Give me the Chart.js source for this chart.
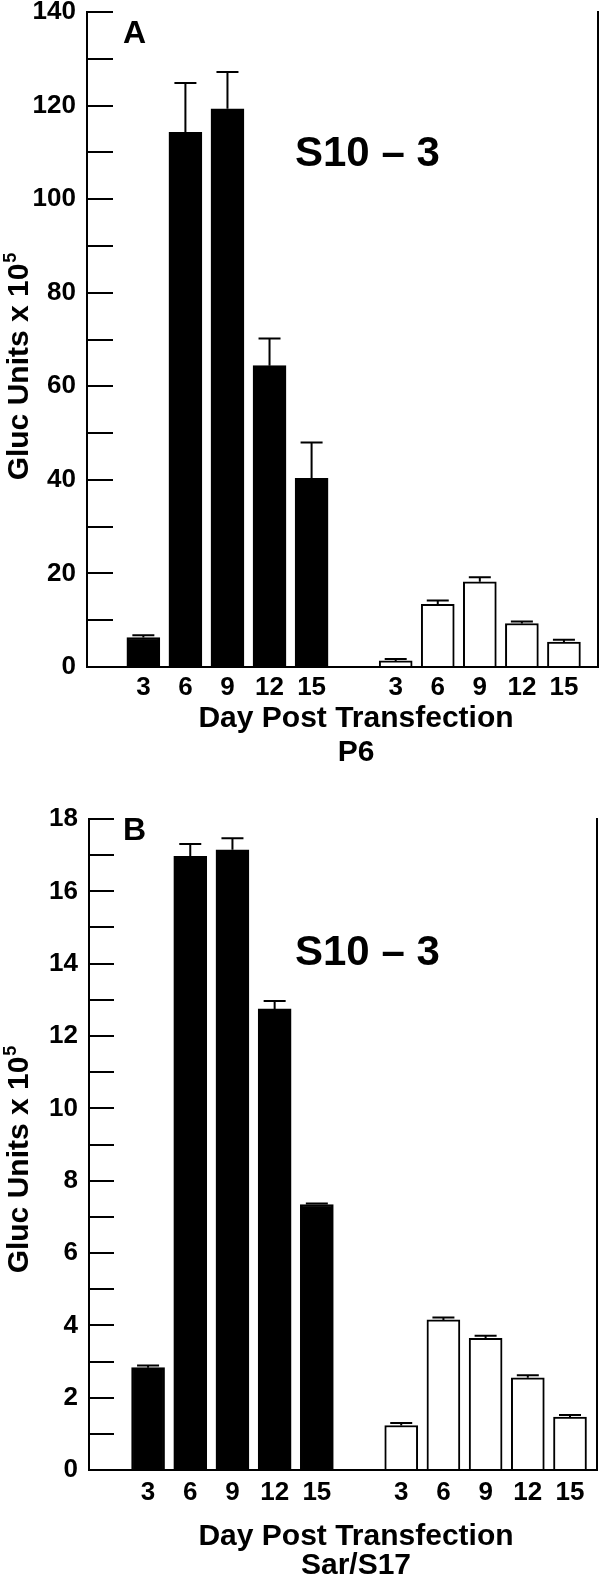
<!DOCTYPE html>
<html>
<head>
<meta charset="utf-8">
<script src="https://cdn.jsdelivr.net/npm/chart.js@4.4.0/dist/chart.umd.min.js"></script>
<style>
  body { margin: 0; background: #fff; }
  canvas { display: block; }
</style>
</head>
<body>
<canvas id="chartA" width="600" height="790"></canvas>
<canvas id="chartB" width="600" height="789"></canvas>
<script>
// Gluc secretion of S10-3 cells by day post transfection
const days = ['3', '6', '9', '12', '15'];
const slotsBlack = [1, 2, 3, 4, 5];
const slotsOpen = [7, 8, 9, 10, 11];

// Panel A - P6
const aBlack = [6.3, 114.3, 119.3, 64.4, 40.3];
const aBlackErr = [0.5, 10.5, 7.9, 5.8, 7.7];
const aOpen = [1.3, 13.4, 18.2, 9.3, 5.3];
const aOpenErr = [0.4, 0.8, 1.0, 0.4, 0.5];

// Panel B - Sar/S17
const bBlack = [2.83, 16.97, 17.15, 12.75, 7.34];
const bBlackErr = [0.06, 0.34, 0.32, 0.22, 0.03];
const bOpen = [1.23, 4.15, 3.64, 2.55, 1.46];
const bOpenErr = [0.07, 0.07, 0.07, 0.07, 0.06];

const FONT = '"Liberation Sans", Arial, Helvetica, sans-serif';
const tickLabels = days.concat(days);
const tickSlots = slotsBlack.concat(slotsOpen);

// error bars: stem from bar top up to value + err, with a cap
const errorBars = {
  id: 'errorBars',
  afterDatasetsDraw(chart) {
    const ctx = chart.ctx;
    const yScale = chart.scales.y;
    ctx.save();
    ctx.strokeStyle = '#000';
    ctx.lineWidth = 2;
    chart.data.datasets.forEach((ds, i) => {
      chart.getDatasetMeta(i).data.forEach((bar, j) => {
        const top = yScale.getPixelForValue(ds.data[j].y + ds.errors[j]);
        ctx.beginPath();
        ctx.moveTo(bar.x, bar.y);
        ctx.lineTo(bar.x, top);
        ctx.moveTo(bar.x - 11, top);
        ctx.lineTo(bar.x + 11, top);
        ctx.stroke();
      });
    });
    ctx.restore();
  }
};

// panel letter, cell line label and axis titles
function panelText(t) {
  return {
    id: 'panelText',
    afterDraw(chart) {
      const ctx = chart.ctx;
      ctx.save();
      ctx.fillStyle = '#000';
      ctx.textBaseline = 'alphabetic';

      ctx.textAlign = 'left';
      ctx.font = 'bold 32px ' + FONT;
      ctx.fillText(t.letter, 123, t.letterY);
      ctx.font = 'bold 42px ' + FONT;
      ctx.fillText('S10 \u2013 3', 295, t.cellY);

      ctx.textAlign = 'center';
      ctx.font = 'bold 30px ' + FONT;
      ctx.fillText('Day Post Transfection', t.xTitleX, t.xTitleY);
      ctx.fillText(t.xSub, t.xTitleX, t.xSubY);

      // rotated y title with superscript 5
      ctx.translate(0, t.yTitleY);
      ctx.rotate(-Math.PI / 2);
      ctx.textAlign = 'left';
      ctx.font = 'bold 30px ' + FONT;
      const main = 'Gluc Units x 10';
      const w1 = ctx.measureText(main).width;
      ctx.font = 'bold 18px ' + FONT;
      const w2 = ctx.measureText('5').width;
      const x0 = -(w1 + w2) / 2;
      ctx.font = 'bold 30px ' + FONT;
      ctx.fillText(main, x0, 28);
      ctx.font = 'bold 18px ' + FONT;
      ctx.fillText('5', x0 + w1 + 1, 16);
      ctx.restore();
    }
  };
}

function makeChart(id, p) {
  return new Chart(document.getElementById(id), {
    type: 'bar',
    data: {
      datasets: [
        {
          data: slotsBlack.map((x, i) => ({ x: x, y: p.black[i] })),
          errors: p.blackErr,
          backgroundColor: '#000',
          borderColor: '#000',
          borderWidth: 2
        },
        {
          data: slotsOpen.map((x, i) => ({ x: x, y: p.open[i] })),
          errors: p.openErr,
          backgroundColor: '#fff',
          borderColor: '#000',
          borderWidth: 2
        }
      ]
    },
    options: {
      responsive: false,
      animation: false,
      grouped: false,
      barThickness: 33,
      layout: { padding: { top: p.top, left: 0, right: 0, bottom: 0 } },
      plugins: { legend: { display: false }, tooltip: { enabled: false } },
      scales: {
        x: {
          type: 'linear',
          min: p.xMin,
          max: p.xMax,
          offset: false,
          afterBuildTicks: (s) => { s.ticks = tickSlots.map(v => ({ value: v })); },
          afterFit: (s) => { s.height = p.xHeight; s.paddingLeft = 0; s.paddingRight = 0; },
          grid: { display: false, drawTicks: false },
          border: { display: true, color: '#000', width: 2 },
          ticks: {
            autoSkip: false,
            maxRotation: 0,
            padding: p.xPad,
            color: '#000',
            font: { family: FONT, size: 26, weight: 'bold' },
            callback: (v, i) => tickLabels[i]
          }
        },
        y: {
          min: 0,
          max: p.yMax,
          afterFit: (s) => { s.width = p.yWidth; s.paddingTop = 0; s.paddingBottom = 0; },
          grid: {
            drawOnChartArea: false,
            drawTicks: true,
            tickLength: -p.tick,
            color: '#000',
            lineWidth: 2
          },
          border: { display: true, color: '#000', width: 2 },
          ticks: {
            stepSize: p.step,
            padding: p.tick + 11,
            color: '#000',
            font: { family: FONT, size: 26, weight: 'bold' },
            callback: (v) => (Math.round(v / p.step) % 2 === 0 ? v : '')
          }
        },
        y2: {
          position: 'right',
          afterFit: (s) => { s.width = p.rightWidth; s.paddingTop = 0; s.paddingBottom = 0; },
          grid: { display: false, drawTicks: false },
          ticks: { display: false },
          border: { display: true, color: '#000', width: 2 }
        }
      }
    },
    plugins: [errorBars, panelText(p.text)]
  });
}

makeChart('chartA', {
  black: aBlack, blackErr: aBlackErr, open: aOpen, openErr: aOpenErr,
  yMax: 140, step: 10, xMin: -0.34, xMax: 11.81,
  top: 12, yWidth: 87, rightWidth: 2, xHeight: 123, xPad: 5, tick: 26,
  text: {
    letter: 'A', letterY: 43, cellY: 166,
    xTitleX: 356, xTitleY: 727, xSub: 'P6', xSubY: 761,
    yTitleY: 367
  }
});

makeChart('chartB', {
  black: bBlack, blackErr: bBlackErr, open: bOpen, openErr: bOpenErr,
  yMax: 18, step: 1, xMin: -0.40, xMax: 11.64,
  top: 29, yWidth: 89, rightWidth: 3, xHeight: 109, xPad: 7, tick: 25,
  text: {
    letter: 'B', letterY: 50, cellY: 175,
    xTitleX: 356, xTitleY: 755, xSub: 'Sar/S17', xSubY: 784,
    yTitleY: 370
  }
});
</script>
</body>
</html>
